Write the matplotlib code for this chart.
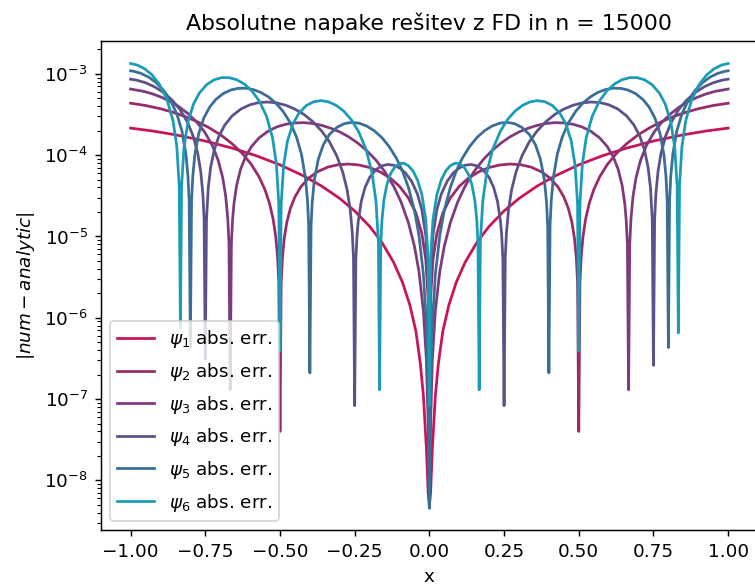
import matplotlib
matplotlib.use('Agg')
from matplotlib import pyplot as plt

# |num - analytic|; each state split into a left (x <= 0) and right (x >= 0) branch
x1r = [0.0, 0.004, 0.01, 0.02, 0.03, 0.045, 0.065, 0.09, 0.12, 0.16, 0.2, 0.25, 0.3, 0.36, 0.42, 0.5, 0.58, 0.66,
       0.75, 0.85, 0.93, 1.0]
y1r = [4.8e-9, 7e-9, 2.5e-8, 1.1e-7, 2.7e-7, 6.8e-7, 1.42e-6, 2.73e-6, 4.83e-6, 8.56e-6, 1.33e-5, 2.06e-5, 2.93e-5,
       4.15e-5, 5.53e-5, 7.6e-5, 9.85e-5, 1.22e-4, 1.49e-4, 1.78e-4, 1.99e-4, 2.15e-4]
x1l = [0.0, -0.004, -0.01, -0.02, -0.03, -0.045, -0.065, -0.09, -0.12, -0.16, -0.2, -0.25, -0.3, -0.36, -0.42, -0.5,
       -0.58, -0.66, -0.75, -0.85, -0.93, -1.0]
y1l = [4.8e-9, 7e-9, 2.5e-8, 1.1e-7, 2.7e-7, 6.8e-7, 1.42e-6, 2.73e-6, 4.83e-6, 8.56e-6, 1.33e-5, 2.06e-5, 2.93e-5,
       4.15e-5, 5.53e-5, 7.6e-5, 9.85e-5, 1.22e-4, 1.49e-4, 1.78e-4, 1.99e-4, 2.15e-4]

x2r = [0.0, 0.004, 0.012, 0.025, 0.045, 0.07, 0.1, 0.13, 0.165, 0.2, 0.235, 0.27, 0.305, 0.34, 0.375, 0.405, 0.43,
       0.45, 0.465, 0.477, 0.486, 0.492, 0.496, 0.5, 0.504, 0.508, 0.514, 0.523, 0.535, 0.55, 0.57, 0.595, 0.625,
       0.66, 0.7, 0.74, 0.78, 0.82, 0.86, 0.9, 0.95, 1.0]
y2r = [2.9e-8, 1.74e-6, 5.22e-6, 1.08e-5, 1.94e-5, 2.97e-5, 4.14e-5, 5.19e-5, 6.23e-5, 7.04e-5, 7.56e-5, 7.77e-5,
       7.63e-5, 7.13e-5, 6.24e-5, 5.18e-5, 4.08e-5, 3.06e-5, 2.22e-5, 1.5e-5, 9.3e-6, 5.38e-6, 2.71e-6, 4.0e-8,
       2.76e-6, 5.55e-6, 9.83e-6, 1.64e-5, 2.55e-5, 3.74e-5, 5.41e-5, 7.61e-5, 1.04e-4, 1.38e-4, 1.79e-4, 2.2e-4,
       2.61e-4, 3.01e-4, 3.38e-4, 3.72e-4, 4.08e-4, 4.35e-4]
x2l = [0.0, -0.004, -0.012, -0.025, -0.045, -0.07, -0.1, -0.13, -0.165, -0.2, -0.235, -0.27, -0.305, -0.34, -0.375,
       -0.405, -0.43, -0.45, -0.465, -0.477, -0.486, -0.492, -0.496, -0.5, -0.504, -0.508, -0.514, -0.523, -0.535,
       -0.55, -0.57, -0.595, -0.625, -0.66, -0.7, -0.74, -0.78, -0.82, -0.86, -0.9, -0.95, -1.0]
y2l = [2.9e-8, 1.74e-6, 5.22e-6, 1.08e-5, 1.94e-5, 2.97e-5, 4.14e-5, 5.19e-5, 6.23e-5, 7.04e-5, 7.56e-5, 7.77e-5,
       7.63e-5, 7.13e-5, 6.24e-5, 5.18e-5, 4.08e-5, 3.06e-5, 2.22e-5, 1.5e-5, 9.3e-6, 5.38e-6, 2.71e-6, 4.0e-8,
       2.76e-6, 5.55e-6, 9.83e-6, 1.64e-5, 2.55e-5, 3.74e-5, 5.41e-5, 7.61e-5, 1.04e-4, 1.38e-4, 1.79e-4, 2.2e-4,
       2.61e-4, 3.01e-4, 3.38e-4, 3.72e-4, 4.08e-4, 4.35e-4]

x3r = [0.0, 0.004, 0.01, 0.02, 0.035, 0.05, 0.07, 0.095, 0.12, 0.15, 0.18, 0.21, 0.24, 0.27, 0.3, 0.33, 0.36, 0.39,
       0.42, 0.45, 0.48, 0.51, 0.54, 0.57, 0.595, 0.615, 0.632, 0.645, 0.654, 0.6587, 0.6627, 0.6667, 0.6707, 0.6747,
       0.6817, 0.6917, 0.7067, 0.7267, 0.7517, 0.7767, 0.8067, 0.8367, 0.8667, 0.8967, 0.9267, 0.9567, 1.0]
y3r = [5.0e-9, 4.9e-8, 3.06e-7, 1.22e-6, 3.74e-6, 7.59e-6, 1.47e-5, 2.67e-5, 4.18e-5, 6.33e-5, 8.78e-5, 1.14e-4,
       1.41e-4, 1.68e-4, 1.93e-4, 2.14e-4, 2.32e-4, 2.45e-4, 2.51e-4, 2.49e-4, 2.4e-4, 2.23e-4, 1.97e-4, 1.63e-4,
       1.28e-4, 9.64e-5, 6.68e-5, 4.27e-5, 2.54e-5, 1.61e-5, 8.12e-6, 1.3e-7, 8.22e-6, 1.65e-5, 3.13e-5, 5.28e-5,
       8.61e-5, 1.32e-4, 1.91e-4, 2.5e-4, 3.21e-4, 3.91e-4, 4.56e-4, 5.15e-4, 5.67e-4, 6.09e-4, 6.5e-4]
x3l = [0.0, -0.004, -0.01, -0.02, -0.035, -0.05, -0.07, -0.095, -0.12, -0.15, -0.18, -0.21, -0.24, -0.27, -0.3,
       -0.33, -0.36, -0.39, -0.42, -0.45, -0.48, -0.51, -0.54, -0.57, -0.595, -0.615, -0.632, -0.645, -0.654,
       -0.6587, -0.6627, -0.6667, -0.6707, -0.6747, -0.6817, -0.6917, -0.7067, -0.7267, -0.7517, -0.7767, -0.8067,
       -0.8367, -0.8667, -0.8967, -0.9267, -0.9567, -1.0]
y3l = [5.0e-9, 4.9e-8, 3.06e-7, 1.22e-6, 3.74e-6, 7.59e-6, 1.47e-5, 2.67e-5, 4.18e-5, 6.33e-5, 8.78e-5, 1.14e-4,
       1.41e-4, 1.68e-4, 1.93e-4, 2.14e-4, 2.32e-4, 2.45e-4, 2.51e-4, 2.49e-4, 2.4e-4, 2.23e-4, 1.97e-4, 1.63e-4,
       1.28e-4, 9.64e-5, 6.68e-5, 4.27e-5, 2.54e-5, 1.61e-5, 8.12e-6, 1.3e-7, 8.22e-6, 1.65e-5, 3.13e-5, 5.28e-5,
       8.61e-5, 1.32e-4, 1.91e-4, 2.5e-4, 3.21e-4, 3.91e-4, 4.56e-4, 5.15e-4, 5.67e-4, 6.09e-4, 6.5e-4]

x4r = [0.0, 0.004, 0.012, 0.025, 0.04, 0.06, 0.08, 0.1, 0.12, 0.14, 0.16, 0.18, 0.2, 0.215, 0.228, 0.238, 0.242,
       0.246, 0.25, 0.254, 0.258, 0.265, 0.275, 0.29, 0.31, 0.335, 0.36, 0.39, 0.42, 0.45, 0.48, 0.51, 0.54, 0.57,
       0.6, 0.63, 0.66, 0.685, 0.705, 0.72, 0.732, 0.74, 0.746, 0.75, 0.754, 0.758, 0.765, 0.775, 0.79, 0.81, 0.835,
       0.86, 0.89, 0.92, 0.95, 0.98, 1.0]
y4r = [5.8e-8, 3.44e-6, 1.03e-5, 2.12e-5, 3.33e-5, 4.8e-5, 6.03e-5, 6.96e-5, 7.52e-5, 7.67e-5, 7.37e-5, 6.59e-5,
       5.31e-5, 4.03e-5, 2.7e-5, 1.54e-5, 1.05e-5, 5.31e-6, 8.3e-8, 5.48e-6, 1.11e-5, 2.14e-5, 3.7e-5, 6.2e-5,
       9.81e-5, 1.47e-4, 1.97e-4, 2.58e-4, 3.17e-4, 3.68e-4, 4.1e-4, 4.38e-4, 4.5e-4, 4.44e-4, 4.17e-4, 3.71e-4,
       3.04e-4, 2.34e-4, 1.69e-4, 1.16e-4, 7.11e-5, 4.0e-5, 1.61e-5, 2.6e-7, 1.63e-5, 3.27e-5, 6.19e-5, 1.04e-4,
       1.69e-4, 2.56e-4, 3.66e-4, 4.71e-4, 5.9e-4, 6.93e-4, 7.77e-4, 8.36e-4, 8.6e-4]
x4l = [0.0, -0.004, -0.012, -0.025, -0.04, -0.06, -0.08, -0.1, -0.12, -0.14, -0.16, -0.18, -0.2, -0.215, -0.228,
       -0.238, -0.242, -0.246, -0.25, -0.254, -0.258, -0.265, -0.275, -0.29, -0.31, -0.335, -0.36, -0.39, -0.42,
       -0.45, -0.48, -0.51, -0.54, -0.57, -0.6, -0.63, -0.66, -0.685, -0.705, -0.72, -0.732, -0.74, -0.746, -0.75,
       -0.754, -0.758, -0.765, -0.775, -0.79, -0.81, -0.835, -0.86, -0.89, -0.92, -0.95, -0.98, -1.0]
y4l = [5.8e-8, 3.44e-6, 1.03e-5, 2.12e-5, 3.33e-5, 4.8e-5, 6.03e-5, 6.96e-5, 7.52e-5, 7.67e-5, 7.37e-5, 6.59e-5,
       5.31e-5, 4.03e-5, 2.7e-5, 1.54e-5, 1.05e-5, 5.31e-6, 8.3e-8, 5.48e-6, 1.11e-5, 2.14e-5, 3.7e-5, 6.2e-5,
       9.81e-5, 1.47e-4, 1.97e-4, 2.58e-4, 3.17e-4, 3.68e-4, 4.1e-4, 4.38e-4, 4.5e-4, 4.44e-4, 4.17e-4, 3.71e-4,
       3.04e-4, 2.34e-4, 1.69e-4, 1.16e-4, 7.11e-5, 4.0e-5, 1.61e-5, 3.1e-7, 1.63e-5, 3.27e-5, 6.19e-5, 1.04e-4,
       1.69e-4, 2.56e-4, 3.66e-4, 4.71e-4, 5.9e-4, 6.93e-4, 7.77e-4, 8.36e-4, 8.6e-4]

x5r = [0.0, 0.004, 0.01, 0.02, 0.035, 0.05, 0.07, 0.09, 0.11, 0.135, 0.16, 0.185, 0.21, 0.235, 0.26, 0.285, 0.31,
       0.335, 0.355, 0.372, 0.385, 0.392, 0.396, 0.4, 0.404, 0.408, 0.415, 0.428, 0.445, 0.465, 0.49, 0.515, 0.54,
       0.565, 0.59, 0.615, 0.64, 0.665, 0.69, 0.715, 0.735, 0.755, 0.772, 0.785, 0.792, 0.796, 0.8, 0.804, 0.808,
       0.815, 0.828, 0.845, 0.865, 0.89, 0.915, 0.94, 0.965, 0.99, 1.0]
y5r = [4.6e-9, 1.37e-7, 8.56e-7, 3.41e-6, 1.04e-5, 2.09e-5, 3.99e-5, 6.37e-5, 9.12e-5, 1.28e-4, 1.66e-4, 2.0e-4,
       2.28e-4, 2.47e-4, 2.53e-4, 2.44e-4, 2.19e-4, 1.79e-4, 1.34e-4, 8.84e-5, 4.93e-5, 2.68e-5, 1.36e-5, 2.1e-7,
       1.38e-5, 2.79e-5, 5.31e-5, 1.02e-4, 1.68e-4, 2.48e-4, 3.47e-4, 4.41e-4, 5.24e-4, 5.93e-4, 6.41e-4, 6.66e-4,
       6.63e-4, 6.32e-4, 5.72e-4, 4.83e-4, 3.92e-4, 2.86e-4, 1.84e-4, 1.01e-4, 5.42e-5, 2.72e-5, 4.3e-7, 2.75e-5,
       5.53e-5, 1.04e-4, 1.97e-4, 3.19e-4, 4.61e-4, 6.3e-4, 7.83e-4, 9.13e-4, 1.012e-3, 1.076e-3, 1.09e-3]
x5l = [0.0, -0.004, -0.01, -0.02, -0.035, -0.05, -0.07, -0.09, -0.11, -0.135, -0.16, -0.185, -0.21, -0.235, -0.26,
       -0.285, -0.31, -0.335, -0.355, -0.372, -0.385, -0.392, -0.396, -0.4, -0.404, -0.408, -0.415, -0.428, -0.445,
       -0.465, -0.49, -0.515, -0.54, -0.565, -0.59, -0.615, -0.64, -0.665, -0.69, -0.715, -0.735, -0.755, -0.772,
       -0.785, -0.792, -0.796, -0.8, -0.804, -0.808, -0.815, -0.828, -0.845, -0.865, -0.89, -0.915, -0.94, -0.965,
       -0.99, -1.0]
y5l = [4.6e-9, 1.37e-7, 8.56e-7, 3.41e-6, 1.04e-5, 2.09e-5, 3.99e-5, 6.37e-5, 9.12e-5, 1.28e-4, 1.66e-4, 2.0e-4,
       2.28e-4, 2.47e-4, 2.53e-4, 2.44e-4, 2.19e-4, 1.79e-4, 1.34e-4, 8.84e-5, 4.93e-5, 2.68e-5, 1.36e-5, 2.1e-7,
       1.38e-5, 2.79e-5, 5.31e-5, 1.02e-4, 1.68e-4, 2.48e-4, 3.47e-4, 4.41e-4, 5.24e-4, 5.93e-4, 6.41e-4, 6.66e-4,
       6.63e-4, 6.32e-4, 5.72e-4, 4.83e-4, 3.92e-4, 2.86e-4, 1.84e-4, 1.01e-4, 5.42e-5, 2.72e-5, 4.3e-7, 2.75e-5,
       5.53e-5, 1.04e-4, 1.97e-4, 3.19e-4, 4.61e-4, 6.3e-4, 7.83e-4, 9.13e-4, 1.012e-3, 1.076e-3, 1.09e-3]

x6r = [0.0, 0.004, 0.012, 0.025, 0.04, 0.055, 0.07, 0.085, 0.1, 0.115, 0.13, 0.142, 0.152, 0.1587, 0.1627, 0.1667,
       0.1707, 0.1787, 0.1917, 0.2117, 0.2367, 0.2617, 0.2867, 0.3117, 0.3367, 0.3617, 0.3867, 0.4117, 0.4367,
       0.4567, 0.475, 0.488, 0.496, 0.5, 0.504, 0.512, 0.525, 0.545, 0.57, 0.595, 0.62, 0.645, 0.67, 0.695, 0.72,
       0.745, 0.77, 0.79, 0.8083, 0.8213, 0.8293, 0.8333, 0.8373, 0.8453, 0.8583, 0.8783, 0.9033, 0.9283, 0.9533,
       0.9783, 1.0]
y6r = [8.5e-8, 5.36e-6, 1.6e-5, 3.26e-5, 4.98e-5, 6.4e-5, 7.41e-5, 7.93e-5, 7.88e-5, 7.21e-5, 5.9e-5, 4.38e-5,
       2.81e-5, 1.59e-5, 8.15e-6, 1.3e-7, 8.62e-6, 2.7e-5, 6.0e-5, 1.17e-4, 1.94e-4, 2.74e-4, 3.48e-4, 4.09e-4,
       4.51e-4, 4.68e-4, 4.54e-4, 4.08e-4, 3.28e-4, 2.43e-4, 1.49e-4, 7.38e-5, 2.51e-5, 3.9e-7, 2.55e-5, 7.75e-5,
       1.64e-4, 3.01e-4, 4.68e-4, 6.22e-4, 7.52e-4, 8.46e-4, 8.97e-4, 8.98e-4, 8.45e-4, 7.38e-4, 5.79e-4, 4.2e-4,
       2.53e-4, 1.24e-4, 4.19e-5, 6.5e-7, 4.23e-5, 1.28e-4, 2.68e-4, 4.84e-4, 7.42e-4, 9.71e-4, 1.156e-3, 1.284e-3,
       1.34e-3]
x6l = [0.0, -0.004, -0.012, -0.025, -0.04, -0.055, -0.07, -0.085, -0.1, -0.115, -0.13, -0.142, -0.152, -0.1587,
       -0.1627, -0.1667, -0.1707, -0.1787, -0.1917, -0.2117, -0.2367, -0.2617, -0.2867, -0.3117, -0.3367, -0.3617,
       -0.3867, -0.4117, -0.4367, -0.4567, -0.475, -0.488, -0.496, -0.5, -0.504, -0.512, -0.525, -0.545, -0.57,
       -0.595, -0.62, -0.645, -0.67, -0.695, -0.72, -0.745, -0.77, -0.79, -0.8083, -0.8213, -0.8293, -0.8333,
       -0.8373, -0.8453, -0.8583, -0.8783, -0.9033, -0.9283, -0.9533, -0.9783, -1.0]
y6l = [8.5e-8, 5.36e-6, 1.6e-5, 3.26e-5, 4.98e-5, 6.4e-5, 7.41e-5, 7.93e-5, 7.88e-5, 7.21e-5, 5.9e-5, 4.38e-5,
       2.81e-5, 1.59e-5, 8.15e-6, 1.3e-7, 8.62e-6, 2.7e-5, 6.0e-5, 1.17e-4, 1.94e-4, 2.74e-4, 3.48e-4, 4.09e-4,
       4.51e-4, 4.68e-4, 4.54e-4, 4.08e-4, 3.28e-4, 2.43e-4, 1.49e-4, 7.38e-5, 2.51e-5, 3.9e-7, 2.55e-5, 7.75e-5,
       1.64e-4, 3.01e-4, 4.68e-4, 6.22e-4, 7.52e-4, 8.46e-4, 8.97e-4, 8.98e-4, 8.45e-4, 7.38e-4, 5.79e-4, 4.2e-4,
       2.53e-4, 1.24e-4, 4.19e-5, 7.5e-7, 4.23e-5, 1.28e-4, 2.68e-4, 4.84e-4, 7.42e-4, 9.71e-4, 1.156e-3, 1.284e-3,
       1.34e-3]

curves = [(x1l, y1l, x1r, y1r), (x2l, y2l, x2r, y2r), (x3l, y3l, x3r, y3r),
          (x4l, y4l, x4r, y4r), (x5l, y5l, x5r, y5r), (x6l, y6l, x6r, y6r)]
labels = [r'$\psi_%d$ abs. err.' % (i + 1) for i in range(6)]
colors = ['#c8145a', '#9a2a6a', '#7e3a7c', '#5e5088', '#3a6e96', '#1a9cb6']

dpi = 132
fig = plt.figure(figsize=(755 / dpi, 588 / dpi), dpi=dpi)
ax = fig.add_axes([0.1334, 0.0986, 0.8706, 0.8312])

for (xl, yl, xr, yr), lab, c in zip(curves, labels, colors):
    ax.plot(xl, yl, color=c, label=lab)
    ax.plot(xr, yr, color=c)

ax.set_yscale('log')
ax.set_title('Absolutne napake rešitev z FD in n = 15000')
ax.set_xlabel('x')
ax.set_ylabel(r'$|num - analytic|$')
ax.legend(loc='lower left', labelspacing=0.58)

fig.savefig('out.png', dpi=dpi)
